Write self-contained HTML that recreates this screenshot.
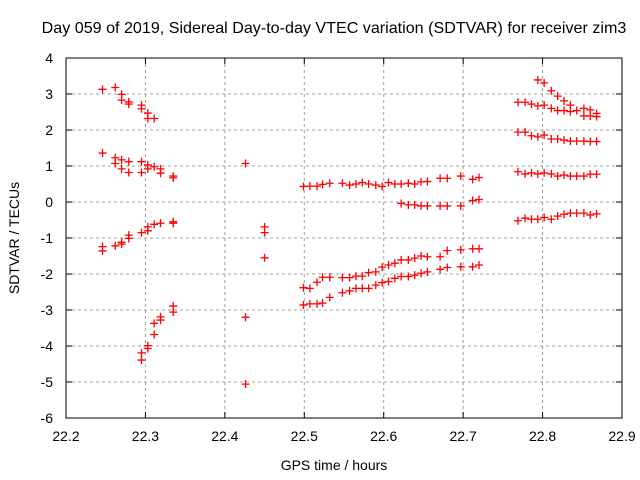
<!DOCTYPE html>
<html><head><meta charset="utf-8"><style>
body{margin:0;background:#fff}
svg{display:block;font-family:"Liberation Sans",sans-serif}
</style></head><body>
<svg id="chart" width="640" height="480">
<rect x="0" y="0" width="640" height="480" fill="#fff"/>
<text x="334" y="33" text-anchor="middle" font-size="16.1" fill="#000">Day 059 of 2019, Sidereal Day-to-day VTEC variation (SDTVAR) for receiver zim3</text>
<g id="grid"></g>
<g id="axes"></g>
<g id="marks"></g>
<text x="334" y="470" text-anchor="middle" font-size="14">GPS time / hours</text>
<text transform="translate(19,238) rotate(-90)" text-anchor="middle" font-size="14">SDTVAR / TECUs</text>
</svg>
<script>
const xTicks=[22.2,22.3,22.4,22.5,22.6,22.7,22.8,22.9];
const yTicks=[-6,-5,-4,-3,-2,-1,0,1,2,3,4];
const xs1=[22.246,22.262,22.270,22.270,22.279,22.279,22.295,22.295,22.303,22.303,22.311];
const ys1=[3.13,3.18,2.99,2.83,2.78,2.72,2.69,2.59,2.47,2.32,2.32];
const xs2=[22.246,22.262,22.262,22.270,22.270,22.279,22.279,22.295,22.295,22.303,22.303,22.311,22.319,22.319,22.335,22.335,22.426];
const ys2=[1.36,1.23,1.07,1.17,0.92,1.12,0.82,1.12,0.82,1.03,0.92,0.98,0.92,0.80,0.72,0.67,1.07];
const xs3=[22.246,22.246,22.262,22.270,22.270,22.279,22.279,22.295,22.303,22.303,22.311,22.319,22.335,22.335,22.450,22.450,22.450];
const ys3=[-1.24,-1.36,-1.22,-1.12,-1.17,-0.92,-1.01,-0.85,-0.80,-0.69,-0.62,-0.59,-0.55,-0.59,-0.69,-0.85,-1.55];
const xs4=[22.335,22.335,22.319,22.319,22.311,22.311,22.303,22.303,22.295,22.295,22.426,22.426];
const ys4=[-2.89,-3.06,-3.19,-3.28,-3.37,-3.68,-3.99,-4.07,-4.19,-4.39,-3.20,-5.06];
const xsB=[22.499,22.507,22.516,22.523,22.532,22.548,22.557,22.565,22.573,22.581,22.590,22.598,22.606,22.614,22.622,22.631,22.639,22.647,22.655,22.671,22.680,22.697,22.712,22.720];
const ysB1=[0.43,0.44,0.44,0.49,0.52,0.52,0.47,0.50,0.54,0.50,0.47,0.43,0.54,0.50,0.50,0.52,0.50,0.56,0.57,0.66,0.66,0.72,0.63,0.68];
const xsB2=[22.622,22.631,22.639,22.647,22.655,22.671,22.680,22.697,22.712,22.720];
const ysB2=[-0.04,-0.08,-0.08,-0.11,-0.11,-0.11,-0.11,-0.11,0.04,0.07];
const ysB3=[-2.38,-2.40,-2.23,-2.09,-2.09,-2.10,-2.10,-2.06,-2.06,-1.96,-1.94,-1.81,-1.75,-1.70,-1.61,-1.61,-1.56,-1.50,-1.52,-1.52,-1.35,-1.33,-1.30,-1.30];
const ysB4=[-2.86,-2.83,-2.83,-2.81,-2.65,-2.52,-2.47,-2.40,-2.40,-2.40,-2.31,-2.24,-2.21,-2.12,-2.07,-2.07,-2.03,-1.98,-1.94,-1.87,-1.82,-1.80,-1.80,-1.75];
const xsC=[22.769,22.778,22.786,22.794,22.802,22.811,22.819,22.827,22.835,22.843,22.852,22.860,22.868];
const xsC0=[22.794,22.802,22.811,22.819,22.827,22.835,22.852,22.860,22.868];
const ysC0=[3.39,3.31,3.09,2.94,2.81,2.69,2.60,2.56,2.46];
const ysC1=[2.77,2.77,2.72,2.67,2.69,2.60,2.54,2.54,2.51,2.54,2.39,2.39,2.37];
const ysC2=[1.94,1.94,1.84,1.81,1.86,1.75,1.75,1.72,1.69,1.69,1.69,1.68,1.68];
const ysC3=[0.84,0.78,0.81,0.78,0.81,0.78,0.72,0.75,0.72,0.72,0.72,0.77,0.77];
const ysC4=[-0.52,-0.45,-0.48,-0.48,-0.43,-0.48,-0.39,-0.34,-0.31,-0.31,-0.31,-0.36,-0.33];

const L=66,R=622,T=58,B=418;
const sx=v=>L+(v-22.2)/(0.7)*(R-L);
const sy=v=>B-(v+6)/10*(B-T);
const NS='http://www.w3.org/2000/svg';
function mk(tag,attrs,parent){const e=document.createElementNS(NS,tag);for(const k in attrs)e.setAttribute(k,attrs[k]);parent.appendChild(e);return e;}
const grid=document.getElementById('grid'),axes=document.getElementById('axes'),marks=document.getElementById('marks');
xTicks.forEach(t=>{const x=sx(t);
 if(t>22.2&&t<22.9){const g=mk('line',{x1:x,y1:T,x2:x,y2:B,stroke:'#a0a0a0','stroke-dasharray':'3,3'},grid);
 
 }
 mk('line',{x1:x,y1:B,x2:x,y2:B-6,stroke:'#000'},axes);
 mk('line',{x1:x,y1:T,x2:x,y2:T+6,stroke:'#000'},axes);
 const tx=mk('text',{x:x,y:B+23,'text-anchor':'middle','font-size':'14'},axes);tx.textContent=t.toFixed(1);
 
 
});
yTicks.forEach(t=>{const y=sy(t);
 if(t>-6&&t<4){const g=mk('line',{x1:L,y1:y,x2:R,y2:y,stroke:'#a0a0a0','stroke-dasharray':'3,3'},grid);
 
 }
 mk('line',{x1:L,y1:y,x2:L+6,y2:y,stroke:'#000'},axes);
 mk('line',{x1:R,y1:y,x2:R-6,y2:y,stroke:'#000'},axes);
 const tx=mk('text',{x:L-13,y:y+5,'text-anchor':'end','font-size':'14'},axes);tx.textContent=String(t);
 
 
});
const fr=mk('rect',{x:L,y:T,width:R-L,height:B-T,fill:'none',stroke:'#000'},axes);


function plot(xa,ya){for(let i=0;i<Math.min(xa.length,ya.length);i++){const x=sx(xa[i]),y=sy(ya[i]);
 const p=mk('path',{d:`M${x-4} ${y}H${x+4}M${x} ${y-4}V${y+4}`,stroke:'#f00','stroke-width':'1.3',fill:'none'},marks);
 
 }}
plot(xs1,ys1);plot(xs2,ys2);plot(xs3,ys3);plot(xs4,ys4);
plot(xsB,ysB1);plot(xsB2,ysB2);plot(xsB,ysB3);plot(xsB,ysB4);
plot(xsC0,ysC0);plot(xsC,ysC1);plot(xsC,ysC2);plot(xsC,ysC3);plot(xsC,ysC4);
</script>
</body></html>
